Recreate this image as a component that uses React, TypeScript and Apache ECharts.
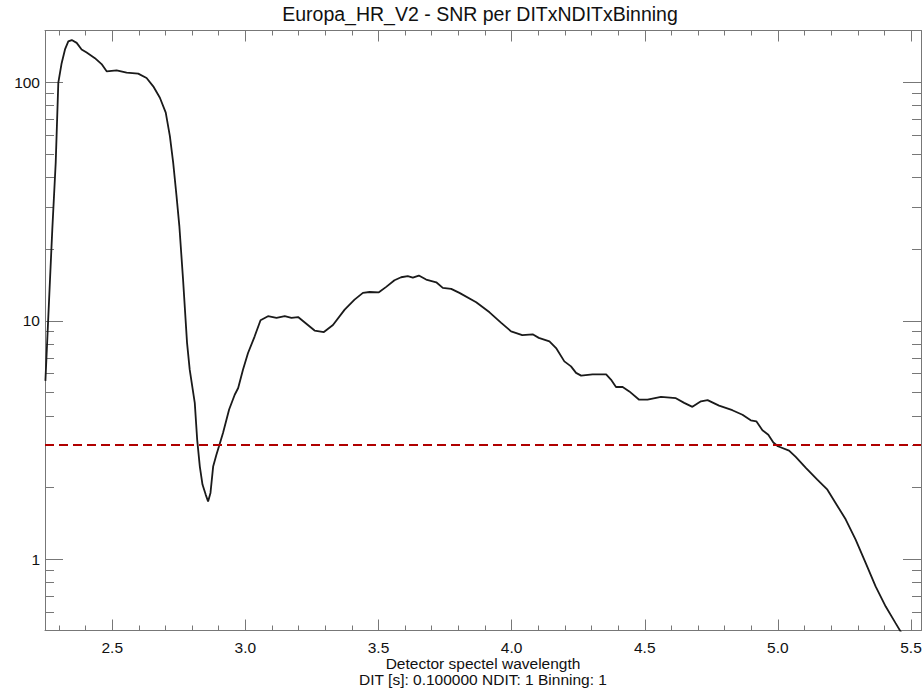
import React, { useEffect, useRef } from "react";
import * as echarts from "echarts";

const TITLE = "Europa_HR_V2 - SNR per DITxNDITxBinning";
const X_NAME_LINES = ["Detector spectel wavelength", "DIT [s]: 0.100000 NDIT: 1 Binning: 1"];

const WAVELENGTH = [
  2.249, 2.2663, 2.2749, 2.2877, 2.2975, 2.31, 2.3226, 2.335, 2.348, 2.3665, 2.385, 2.404, 2.435, 2.46, 2.479,
  2.5165, 2.554, 2.5975, 2.629, 2.654, 2.679, 2.701, 2.7165, 2.729, 2.7415, 2.752, 2.766, 2.781, 2.791, 2.81,
  2.819, 2.829, 2.839, 2.851, 2.86, 2.869, 2.879, 2.8915, 2.901, 2.916, 2.939, 2.96, 2.973, 2.991, 3.01, 3.035,
  3.057, 3.085, 3.117, 3.148, 3.173, 3.198, 3.229, 3.26, 3.295, 3.329, 3.373, 3.41, 3.4415, 3.4666, 3.5015,
  3.529, 3.56, 3.585, 3.61, 3.629, 3.6515, 3.679, 3.717, 3.7415, 3.773, 3.804, 3.867, 3.917, 3.961, 3.998,
  4.04, 4.079, 4.102, 4.142, 4.167, 4.198, 4.223, 4.242, 4.261, 4.304, 4.355, 4.373, 4.392, 4.417, 4.442,
  4.479, 4.5105, 4.561, 4.617, 4.648, 4.679, 4.711, 4.736, 4.779, 4.829, 4.867, 4.898, 4.919, 4.942, 4.964,
  4.983, 5.0, 5.042, 5.067, 5.105, 5.148, 5.186, 5.223, 5.255, 5.292, 5.33, 5.367, 5.405, 5.442, 5.47,
];

const SNR = [
  5.6, 14.9, 24.1, 45.9, 99.4, 120, 137, 148, 150, 146, 137, 133, 126, 119, 111,
  112, 109.5, 108.5, 104, 96, 86, 74.5, 59.4, 45.9, 33.3, 25, 14.9, 8.08, 6.24, 4.53,
  3.18, 2.45, 2.06, 1.87, 1.75, 1.9, 2.45, 2.75, 2.98, 3.39, 4.25, 4.9, 5.23, 6.24, 7.33, 8.61,
  10.05, 10.45, 10.29, 10.45, 10.29, 10.37, 9.72, 9.1, 8.97, 9.6, 11.14, 12.27, 13.09, 13.2, 13.16,
  13.87, 14.78, 15.22, 15.37, 15.17, 15.47, 14.89, 14.5, 13.74, 13.6, 13.09, 11.96, 10.85, 9.8, 9.03,
  8.7, 8.78, 8.48, 8.2, 7.69, 6.76, 6.44, 6.05, 5.89, 5.96, 5.96, 5.67, 5.28, 5.28, 5.06,
  4.67, 4.67, 4.8, 4.74, 4.53, 4.36, 4.6, 4.65, 4.41, 4.22, 4.04, 3.83, 3.79, 3.48, 3.33,
  3.09, 2.98, 2.86, 2.69, 2.42, 2.16, 1.96, 1.68, 1.47, 1.21, 0.966, 0.771, 0.635, 0.541, 0.48,
];

const THRESHOLD = 3;

const X_MIN = 2.2475;
const X_MAX = 5.5375;
const Y_MIN = 0.504;
const Y_MAX = 164.5;

const X_MAJOR = [2.5, 3.0, 3.5, 4.0, 4.5, 5.0, 5.5];
const X_MINOR = [
  2.3, 2.4, 2.6, 2.7, 2.8, 2.9, 3.1, 3.2, 3.3, 3.4, 3.6, 3.7, 3.8, 3.9, 4.1, 4.2, 4.3, 4.4, 4.6, 4.7, 4.8, 4.9,
  5.1, 5.2, 5.3, 5.4,
];
const Y_MAJOR = [1, 10, 100];
const Y_MINOR = [0.6, 0.7, 0.8, 0.9, 2, 3, 4, 5, 6, 7, 8, 9, 20, 30, 40, 50, 60, 70, 80, 90];

const FONT = "'Liberation Sans', Helvetica, Arial, sans-serif";
const AXIS_COLOR = "#777777";

export default function App() {
  const ref = useRef<HTMLDivElement>(null);

  useEffect(() => {
    document.body.style.margin = "0";
    document.body.style.overflow = "hidden";
    if (!ref.current) return;
    const chart = echarts.init(ref.current, undefined, { renderer: "svg" });
    const lg = (v: number) => Math.log10(v);

    const xAxisBase = (extra: any) => ({
      type: "value",
      min: X_MIN,
      max: X_MAX,
      splitLine: { show: false },
      ...extra,
    });
    const yAxisBase = (extra: any) => ({
      type: "value",
      min: lg(Y_MIN),
      max: lg(Y_MAX),
      splitLine: { show: false },
      ...extra,
    });

    const lineAx = { show: true, onZero: false, lineStyle: { color: AXIS_COLOR, width: 1 } };
    const noLine = { show: false, onZero: false };
    const noLabel = { show: false };

    const xMajTicks = { show: true, inside: true, length: 11, customValues: X_MAJOR, lineStyle: { color: AXIS_COLOR } };
    const xMinTicks = { show: true, inside: true, length: 5, customValues: X_MINOR, lineStyle: { color: AXIS_COLOR } };
    const yMajVals = Y_MAJOR.map(lg);
    const yMinVals = Y_MINOR.map(lg);
    const yMajTicks = { show: true, inside: true, length: 18, customValues: yMajVals, lineStyle: { color: AXIS_COLOR } };
    const yMinTicks = { show: true, inside: true, length: 9, customValues: yMinVals, lineStyle: { color: AXIS_COLOR } };

    const textStyle = (text: string, size: number) => ({
      text,
      fontSize: size,
      fontFamily: FONT,
      fill: "#111111",
      align: "center",
      verticalAlign: "middle",
    });

    chart.setOption({
      animation: false,
      backgroundColor: "#ffffff",
      grid: {
        left: 45,
        top: 30.5,
        width: 876,
        height: 600,
        containLabel: false,
        outerBoundsMode: "none",
      },
      graphic: [
        { type: "text", x: 480, y: 14, style: textStyle(TITLE, 19.5) },
        { type: "text", x: 483, y: 663, style: textStyle(X_NAME_LINES[0], 15.5) },
        { type: "text", x: 483, y: 679, style: textStyle(X_NAME_LINES[1], 15.5) },
      ],
      xAxis: [
        xAxisBase({
          position: "bottom",
          axisLine: lineAx,
          axisTick: xMajTicks,
          axisLabel: {
            customValues: X_MAJOR,
            formatter: (v: number) => v.toFixed(1),
            fontSize: 15.5,
            fontFamily: FONT,
            color: "#111111",
            margin: 9,
          },
        }),
        xAxisBase({ position: "bottom", axisLine: noLine, axisTick: xMinTicks, axisLabel: noLabel }),
        xAxisBase({ position: "top", axisLine: lineAx, axisTick: xMajTicks, axisLabel: noLabel }),
        xAxisBase({ position: "top", axisLine: noLine, axisTick: xMinTicks, axisLabel: noLabel }),
      ],
      yAxis: [
        yAxisBase({
          position: "left",
          axisLine: lineAx,
          axisTick: yMajTicks,
          axisLabel: {
            customValues: yMajVals,
            formatter: (v: number) => String(Math.round(Math.pow(10, v))),
            fontSize: 15.5,
            fontFamily: FONT,
            color: "#111111",
            margin: 5,
          },
        }),
        yAxisBase({ position: "left", axisLine: noLine, axisTick: yMinTicks, axisLabel: noLabel }),
        yAxisBase({ position: "right", axisLine: lineAx, axisTick: yMajTicks, axisLabel: noLabel }),
        yAxisBase({ position: "right", axisLine: noLine, axisTick: yMinTicks, axisLabel: noLabel }),
      ],
      series: [
        {
          type: "line",
          xAxisIndex: 0,
          yAxisIndex: 0,
          data: WAVELENGTH.map((x, i) => [x, lg(SNR[i])]),
          showSymbol: false,
          symbol: "none",
          clip: true,
          lineStyle: { color: "#1a1a1a", width: 1.8 },
          markLine: {
            silent: true,
            symbol: "none",
            label: { show: false },
            lineStyle: { color: "#b00000", width: 2, type: [9, 5] },
            data: [{ yAxis: lg(THRESHOLD) }],
          },
        },
      ],
    });
    return () => chart.dispose();
  }, []);

  return <div ref={ref} style={{ width: 923, height: 693, overflow: "hidden" }} />;
}
